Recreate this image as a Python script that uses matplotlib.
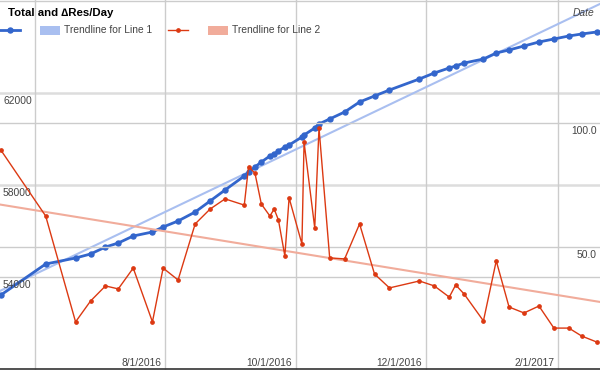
import matplotlib
matplotlib.use("Agg")
import matplotlib.pyplot as plt
import matplotlib.dates as mdates
import numpy as np

plt.rcParams['font.family'] = ['Liberation Sans', 'DejaVu Sans']

# ---- data ----
dates = ["2016-05-16", "2016-06-06", "2016-06-20", "2016-06-27", "2016-07-04", "2016-07-10",
         "2016-07-17", "2016-07-26", "2016-07-31", "2016-08-07", "2016-08-15", "2016-08-22",
         "2016-08-29", "2016-09-07", "2016-09-09", "2016-09-12", "2016-09-15", "2016-09-19",
         "2016-09-21", "2016-09-23", "2016-09-26", "2016-09-28", "2016-10-04", "2016-10-05",
         "2016-10-10", "2016-10-12", "2016-10-17", "2016-10-24", "2016-10-31", "2016-11-07",
         "2016-11-14", "2016-11-28", "2016-12-05", "2016-12-12", "2016-12-15", "2016-12-19",
         "2016-12-28", "2017-01-03", "2017-01-09", "2017-01-16", "2017-01-23", "2017-01-30",
         "2017-02-06", "2017-02-12", "2017-02-19"]
total = [53217, 54565, 54826, 55000, 55304, 55478, 55783, 55957, 56174, 56435, 56826, 57304,
         57783, 58391, 58565, 58783, 59000, 59261, 59348, 59478, 59652, 59739, 60087, 60174,
         60478, 60652, 60870, 61174, 61609, 61870, 62130, 62609, 62870, 63087, 63174, 63304,
         63478, 63739, 63870, 64043, 64217, 64348, 64478, 64565, 64652]
res_per_day = [89.1, 62.5, 19.8, 28.2, 34.3, 33.1, 41.5, 19.8, 41.5, 36.7, 59.3, 65.3,
               69.4, 66.9, 82.3, 79.8, 67.3, 62.5, 65.3, 60.9, 46.4, 69.8, 51.2, 92.3,
               57.7, 98.0, 45.6, 45.2, 59.3, 39.1, 33.5, 36.3, 34.3, 29.8, 34.7, 31.0,
               20.2, 44.4, 25.8, 23.4, 26.2, 17.3, 17.3, 14.1, 11.7]
left_ticks = [54000, 58000, 62000]
right_ticks = [50.0, 100.0]
month_ticks = ["2016-06-01", "2016-08-01", "2016-10-01", "2016-12-01", "2017-02-01"]
title = "Total and \u2206Res/Day"
trend_labels = ["Trendline for Line 1", "Trendline for Line 2"]

# ---- styles ----
BLUE = "#3366cc"
RED = "#dc3912"
BLUE_T = "#a9bff0"
RED_T = "#f1ac9b"
GRID = "#cccccc"
TXT = "#444444"

x = mdates.datestr2num(dates)
xt = mdates.datestr2num(month_ticks)
jun1 = mdates.datestr2num("2016-06-01")
ppd = 2.1354
xlim = (jun1 - 35 / ppd, jun1 + 565 / ppd)

fig = plt.figure(figsize=(6, 3.7), dpi=100)
ax = fig.add_axes([0, 0, 1, 1])
ax2 = ax.twinx()
ax.set_xlim(*xlim)
ax.set_ylim(49957, 66043)
ax2.set_ylim(0.40, 149.6)
for a in (ax, ax2):
    a.set_xticks([])
    a.set_yticks([])
    for s in a.spines.values():
        s.set_visible(False)
ax.set_zorder(1)
ax2.set_zorder(2)
ax.patch.set_visible(True)
ax.patch.set_facecolor("white")
ax2.patch.set_visible(False)

# gridlines
for v in [54000, 58000, 62000, 66000]:
    thick = v in (58000, 62000)
    ax.axhline(v, color="#dddddd" if thick else GRID, lw=1.8 if thick else 1.0, zorder=0)
for v in right_ticks:
    ax2.axhline(v, color=GRID, lw=1.0, zorder=0)
for v in xt:
    ax.axvline(v, color=GRID, lw=1.0, zorder=0)
ax.axhline(50000, color="#333333", lw=1.2, zorder=0.5)

# trendlines (least squares)
xx = np.array(xlim)
p1 = np.polyfit(x, total, 1)
ax.plot(xx, np.polyval(p1, xx), color=BLUE_T, lw=1.5, zorder=1)
p2 = np.polyfit(x, res_per_day, 1)
ax2.plot(xx, np.polyval(p2, xx), color=RED_T, lw=1.5, zorder=1)

# data lines
ax.plot(x, total, color=BLUE, lw=2, marker="o", ms=3.6, zorder=3)
ax2.plot(x, res_per_day, color=RED, lw=1, marker="o", ms=2.4, zorder=3)

# axis labels
for v in left_ticks:
    ax.annotate(f"{v}", xy=(0, v), xycoords=("axes fraction", "data"), xytext=(3, -8),
                textcoords="offset pixels", ha="left", va="center", fontsize=7.4, color=TXT,
                zorder=5)
for v in right_ticks:
    ax2.annotate(f"{v:.1f}", xy=(1, v), xycoords=("axes fraction", "data"), xytext=(-3, -8),
                 textcoords="offset pixels", ha="right", va="center", fontsize=7.4, color=TXT,
                 zorder=5)
for v, s in zip(xt, month_ticks):
    # labels that would run off the left edge are not shown (as in the reference)
    if (v - xlim[0]) * ppd < 60:
        continue
    y_, m_, d_ = s.split("-")
    ax.annotate(f"{int(m_)}/{int(d_)}/{y_}", xy=(v, 0), xycoords=("data", "axes fraction"),
                xytext=(-4, 7), textcoords="offset pixels", ha="right", va="center",
                fontsize=7.4, color=TXT, zorder=5)

# title, axis title, legend (pixel coordinates overlay)
ov = fig.add_axes([0, 0, 1, 1], zorder=10)
ov.set_xlim(0, 600)
ov.set_ylim(370, 0)
ov.axis("off")
ov.patch.set_visible(False)
ov.text(8, 13, title, fontsize=8.2, fontweight="bold", color="black", ha="left", va="center")
ov.text(594, 13, "Date", fontsize=7.4, style="italic", color=TXT, ha="right", va="center")

ov.plot([0, 20], [30, 30], color=BLUE, lw=2)
ov.plot([10], [30], marker="o", color=BLUE, ms=3.6)
ov.add_patch(plt.Rectangle((40, 25.5), 20, 9, color=BLUE_T, lw=0))
ov.text(64, 30, trend_labels[0], fontsize=7.4, color=TXT, ha="left", va="center")
ov.plot([168, 188], [30, 30], color=RED, lw=1)
ov.plot([178], [30], marker="o", color=RED, ms=2.4)
ov.add_patch(plt.Rectangle((208, 25.5), 20, 9, color=RED_T, lw=0))
ov.text(232, 30, trend_labels[1], fontsize=7.4, color=TXT, ha="left", va="center")

fig.savefig("out.png", dpi=100)
